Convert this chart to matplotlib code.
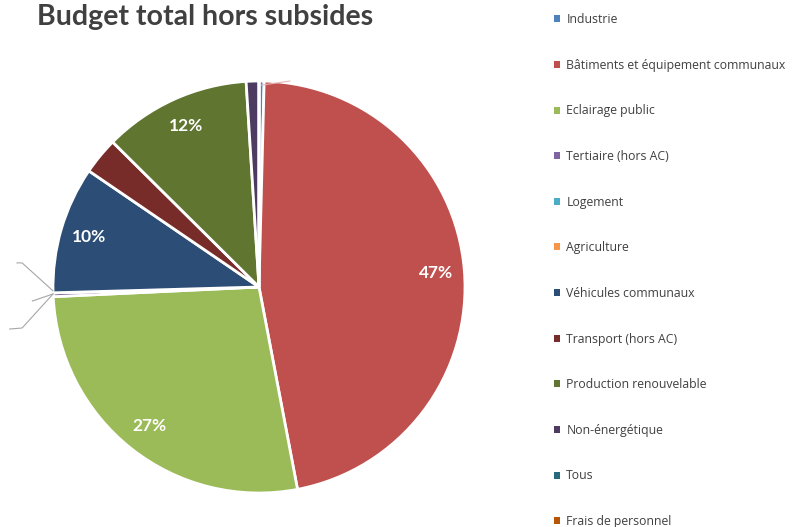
import numpy as np
import matplotlib.pyplot as plt
from matplotlib.patches import Rectangle

categories = ["Industrie", "Bâtiments et équipement communaux", "Eclairage public",
              "Tertiaire (hors AC)", "Logement", "Agriculture", "Véhicules communaux",
              "Transport (hors AC)", "Production renouvelable", "Non-énergétique",
              "Tous", "Frais de personnel"]
values = [0.4, 46.7, 27.3, 0.3, 0.0, 0.0, 10.0, 2.9, 11.6, 1.0, 0.0, 0.0]
colors = ["#4F81BD", "#C0504D", "#9BBB59", "#8064A2", "#4BACC6", "#F79646",
          "#2C4D75", "#772C2A", "#5F7530", "#4D3B62", "#276A7C", "#B65708"]

W, H = 798, 527
cx, cy, r = 259, 287, 206

fig = plt.figure(figsize=(W / 100, H / 100), dpi=100)
ax = fig.add_axes([(cx - r) / W, (H - cy - r) / H, 2 * r / W, 2 * r / H])


def fmt(p):
    return f"{p:.0f}%" if p >= 5 else ""


wedges, _, autotexts = ax.pie(values, colors=colors, startangle=90, counterclock=False,
                              autopct=fmt, pctdistance=0.86,
                              wedgeprops=dict(edgecolor="white", linewidth=2))
for t in autotexts:
    t.set_color("white")
    t.set_fontweight("bold")
    t.set_fontsize(12.5)
    t.set_fontfamily("Lato")
ax.set_xlim(-1, 1)
ax.set_ylim(-1, 1)
ax.set_aspect("equal")

# leader lines for the small slices
lead = "#A6A6A6"
ends = np.cumsum(values)
def edge(v):
    a = np.deg2rad(90 - v / 100 * 360)
    return np.cos(a), np.sin(a)

ex, ey = edge(ends[3])
ax.plot([ex, -1.15, -1.175], [ey, 0.117, 0.117], color=lead, lw=0.8, clip_on=False)
ax.plot([ex, -1.10], [ey - 0.015, -0.068], color=lead, lw=0.8, clip_on=False)
ax.plot([ex, -1.15, -1.21], [ey - 0.015, -0.199, -0.204], color=lead, lw=0.8, clip_on=False)
tx, ty = edge(ends[0] / 2)
ax.plot([tx * 0.98, 0.15], [ty * 0.98, 1.0], color="#E6B8B7", lw=0.8, clip_on=False)

fig.text(37 / W, 1 - 17 / H, "Budget total hors subsides", fontsize=20.5,
         fontweight="bold", color="#404040", family="Lato", va="center")

handles = [Rectangle((0, 0), 1, 1, facecolor=c) for c in colors]
leg = fig.legend(handles, categories, loc="upper left", bbox_to_anchor=(548 / W, 1 - 7 / H),
                 frameon=False, handlelength=0.5, handleheight=0.5,
                 handletextpad=0.5, labelspacing=2.67, borderpad=0,
                 prop=dict(family="Open Sans", size=8.8))
for t in leg.get_texts():
    t.set_color("#404040")

fig.savefig("out.png", dpi=100)
